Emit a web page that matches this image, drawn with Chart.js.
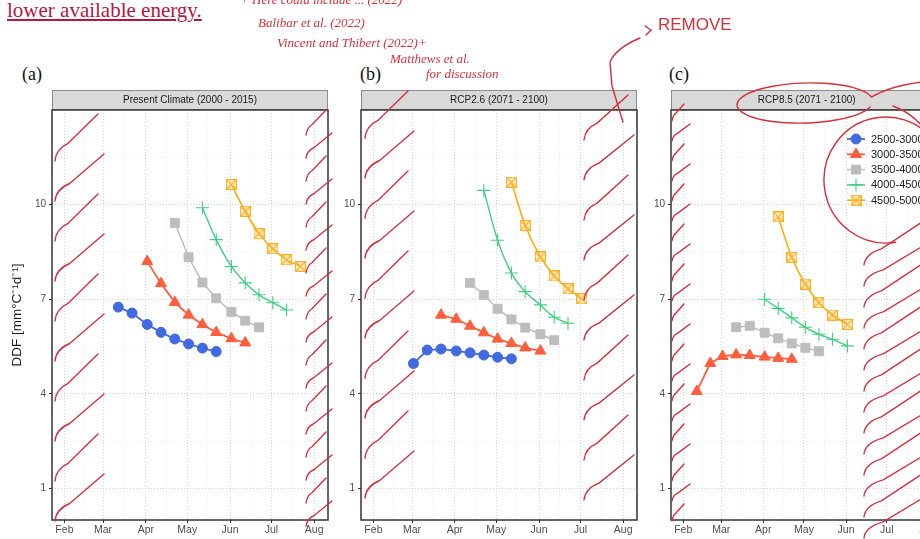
<!DOCTYPE html>
<html>
<head>
<meta charset="utf-8">
<script src="https://cdn.jsdelivr.net/npm/chart.js@4.4.1/dist/chart.umd.min.js"></script>
<style>
  body { margin: 0; width: 920px; height: 539px; overflow: hidden; background: #fff; position: relative; }
  .panel { position: absolute; top: 86px; }
  .lead { position: absolute; left: 7px; top: 0px; font: 21px "Liberation Serif", serif; line-height: 21px; color: #b5173f; text-decoration: underline; white-space: nowrap; }
  .tag { position: absolute; top: 64px; font: 18px "Liberation Serif", serif; color: #111; }
  #ink { position: absolute; left: 0; top: 0; pointer-events: none; z-index: 5; }
</style>
</head>
<body>
<div class="lead">lower available energy.</div>
<div class="tag" style="left:22px">(a)</div>
<div class="tag" style="left:360px">(b)</div>
<div class="tag" style="left:669px">(c)</div>

<canvas id="present" class="panel" width="340" height="453" style="left:0"></canvas>
<canvas id="rcp26" class="panel" width="310" height="453" style="left:340px"></canvas>
<canvas id="rcp85" class="panel" width="300" height="453" style="left:650px"></canvas>
<canvas id="ink" width="920" height="539"></canvas>

<script>
'use strict';

const _ = null;

// dekad dates (day of year) used by every series
const dekadDays = [42, 52, 61, 71, 81, 92, 102, 112, 122, 132, 142, 153, 163, 173, 183, 193, 203];

const elevationBands = ['2500-3000', '3000-3500', '3500-4000', '4000-4500', '4500-5000'];
const panelTitles = ['Present Climate (2000 - 2015)', 'RCP2.6 (2071 - 2100)', 'RCP8.5 (2071 - 2100)'];

const monthTicks = [32, 60, 91, 121, 152, 182, 213];
const monthLabels = ['Feb', 'Mar', 'Apr', 'May', 'Jun', 'Jul', 'Aug'];
const midMonthTicks = [46, 75, 106, 136, 167, 197];
const ddfTicks = [1, 4, 7, 10];
const ddfMinorTicks = [2.5, 5.5, 8.5, 11.5];

// DDF values, one array per elevation band
const present2500 = [_, _, _, 6.75, 6.56, 6.2, 5.95, 5.74, 5.58, 5.45, 5.34, _, _, _, _, _, _];
const present3000 = [_, _, _, _, _, 8.2, 7.5, 6.9, 6.5, 6.2, 5.95, 5.75, 5.62, _, _, _, _];
const present3500 = [_, _, _, _, _, _, _, 9.42, 8.33, 7.53, 7.03, 6.6, 6.32, 6.11, _, _, _];
const present4000 = [_, _, _, _, _, _, _, _, _, 9.9, 8.89, 8.04, 7.52, 7.14, 6.89, 6.66, _];
const present4500 = [_, _, _, _, _, _, _, _, _, _, _, 10.64, 9.79, 9.08, 8.6, 8.25, 8.04];

const rcp26_2500 = [_, _, 4.96, 5.39, 5.42, 5.36, 5.3, 5.23, 5.16, 5.11, _, _, _, _, _, _, _];
const rcp26_3000 = [_, _, _, _, 6.5, 6.37, 6.15, 5.94, 5.74, 5.6, 5.46, 5.36, _, _, _, _, _];
const rcp26_3500 = [_, _, _, _, _, _, 7.52, 7.14, 6.7, 6.36, 6.1, 5.89, 5.7, _, _, _, _];
const rcp26_4000 = [_, _, _, _, _, _, _, 10.45, 8.87, 7.83, 7.24, 6.82, 6.43, 6.24, _, _, _];
const rcp26_4500 = [_, _, _, _, _, _, _, _, _, 10.71, 9.34, 8.34, 7.74, 7.33, 7.01, _, _];

const rcp85_2500 = [_, _, _, _, _, _, _, _, _, _, _, _, _, _, _, _, _];
const rcp85_3000 = [4.08, 4.97, 5.19, 5.24, 5.22, 5.17, 5.13, 5.1, _, _, _, _, _, _, _, _, _];
const rcp85_3500 = [_, _, _, 6.11, 6.16, 5.94, 5.76, 5.6, 5.46, 5.35, _, _, _, _, _, _, _];
const rcp85_4000 = [_, _, _, _, _, 7.0, 6.71, 6.41, 6.11, 5.89, 5.73, 5.52, _, _, _, _, _];
const rcp85_4500 = [_, _, _, _, _, _, 9.61, 8.33, 7.48, 6.89, 6.5, 6.2, _, _, _, _, _];

const FONT = '"Liberation Sans", Arial, sans-serif';

// square with an X, like ggplot shape 7
function makeBoxCross(color) {
  let c = document.createElement('canvas');
  c.width = 11; c.height = 11;
  let g = c.getContext('2d');
  g.fillStyle = 'rgba(255, 200, 110, 0.35)';
  g.fillRect(0, 0, 11, 11);
  g.strokeStyle = color;
  g.lineWidth = 1.1;
  g.strokeRect(0.5, 0.5, 10, 10);
  g.beginPath();
  g.moveTo(1, 1); g.lineTo(10, 10);
  g.moveTo(10, 1); g.lineTo(1, 10);
  g.stroke();
  return c;
}

const bandStyles = [
  { color: '#4169e1', fill: '#4169e1', point: 'circle', radius: 5, width: 1.8, pw: 1, smooth: false },
  { color: '#ff5d3b', fill: '#ff5d3b', point: 'triangle', radius: 6.3, width: 1.8, pw: 1, smooth: false },
  { color: '#bdbdbd', fill: '#bdbdbd', point: 'rect', radius: 6.3, width: 1.5, pw: 1, smooth: false },
  { color: '#3fcf80', fill: '#3fcf80', point: 'cross', radius: 6.5, width: 1.4, pw: 1.1, smooth: true },
  { color: '#ffab00', fill: '#ffab00', point: makeBoxCross('#ffb020'), radius: 5, width: 1.6, pw: 1, smooth: true }
];

// strip header and panel border, ggplot theme_bw style
const panelFrame = {
  id: 'panelFrame',
  afterDraw(chart, args, opts) {
    let ctx = chart.ctx;
    let a = chart.chartArea;
    ctx.save();
    ctx.fillStyle = '#d9d9d9';
    ctx.fillRect(a.left, a.top - 20, a.right - a.left, 20);
    ctx.strokeStyle = '#8c8c8c';
    ctx.lineWidth = 1;
    ctx.strokeRect(a.left + 0.5, a.top - 19.5, a.right - a.left - 1, 19);
    ctx.fillStyle = '#1a1a1a';
    ctx.font = '10px ' + FONT;
    ctx.textAlign = 'center';
    ctx.textBaseline = 'middle';
    ctx.fillText(opts.title, (a.left + a.right) / 2, a.top - 9.5);
    ctx.strokeStyle = '#333';
    ctx.lineWidth = 1.5;
    ctx.strokeRect(a.left, a.top, a.right - a.left, a.bottom - a.top);
    ctx.restore();
  }
};

// legend drawn inside the plot area of the last panel
const insideLegend = {
  id: 'insideLegend',
  afterDraw(chart, args, opts) {
    if (!opts.show) return;
    let ctx = chart.ctx;
    let a = chart.chartArea;
    ctx.save();
    elevationBands.forEach((band, i) => {
      let st = bandStyles[i];
      let x = a.left + 185;
      let y = a.top + 29 + i * 15.3;
      ctx.strokeStyle = st.color;
      ctx.fillStyle = st.fill;
      ctx.lineWidth = st.width;
      ctx.beginPath();
      ctx.moveTo(x - 9, y); ctx.lineTo(x + 9, y);
      ctx.stroke();
      ctx.lineWidth = st.pw;
      if (st.point instanceof HTMLCanvasElement) {
        ctx.drawImage(st.point, x - 5.5, y - 5.5);
      } else {
        Chart.helpers.drawPoint(ctx, { pointStyle: st.point, radius: st.radius, borderWidth: st.pw, rotation: 0 }, x, y);
      }
      ctx.fillStyle = '#1a1a1a';
      ctx.font = '11px ' + FONT;
      ctx.textBaseline = 'middle';
      ctx.fillText(band, a.left + 200, y + 0.5);
    });
    ctx.restore();
  }
};

function makePanel(canvasId, title, series, opts) {
  let datasets = series.map((vals, i) => {
    let st = bandStyles[i];
    let pts = [];
    for (let k = 0; k < dekadDays.length; k++) {
      if (vals[k] !== null) pts.push({ x: dekadDays[k], y: vals[k] });
    }
    return {
      label: elevationBands[i],
      data: pts,
      borderColor: st.color,
      backgroundColor: st.fill,
      borderWidth: st.width,
      pointStyle: st.point,
      pointRadius: st.radius,
      pointBorderColor: st.color,
      pointBackgroundColor: st.fill,
      pointBorderWidth: st.pw,
      cubicInterpolationMode: st.smooth ? 'monotone' : 'default',
      tension: st.smooth ? 0.4 : 0
    };
  });

  return new Chart(document.getElementById(canvasId), {
    type: 'line',
    data: { datasets: datasets },
    plugins: [panelFrame, insideLegend],
    options: {
      responsive: false,
      animation: false,
      layout: { padding: { top: 24, left: opts.padLeft, right: opts.padRight, bottom: 0 } },
      plugins: {
        legend: { display: false },
        tooltip: { enabled: false },
        panelFrame: { title: title },
        insideLegend: { show: opts.legend }
      },
      scales: {
        x: {
          type: 'linear',
          min: 23,
          max: 223,
          afterBuildTicks: axis => {
            axis.ticks = monthTicks.concat(midMonthTicks).sort((p, q) => p - q).map(v => ({ value: v }));
          },
          afterFit: s => { s.height = 19; },
          ticks: {
            autoSkip: false,
            maxRotation: 0,
            padding: 1,
            color: '#4d4d4d',
            font: { size: 10.5, family: FONT },
            callback: v => {
              let i = monthTicks.indexOf(v);
              return i >= 0 ? monthLabels[i] : '';
            }
          },
          grid: {
            color: c => monthTicks.includes(c.tick.value) ? '#d2d2d2' : '#ececec',
            tickColor: c => monthTicks.includes(c.tick.value) ? '#333' : 'rgba(0,0,0,0)',
            tickLength: 3,
            lineWidth: 1
          },
          border: { display: false, dash: [1, 2] }
        },
        y: {
          min: 0,
          max: 13,
          afterBuildTicks: axis => {
            axis.ticks = ddfTicks.concat(ddfMinorTicks).sort((p, q) => p - q).map(v => ({ value: v }));
          },
          afterFit: s => { s.width = opts.yWidth; },
          ticks: {
            padding: 3,
            color: '#4d4d4d',
            font: { size: 10, family: FONT },
            callback: v => ddfTicks.includes(v) ? String(v) : ''
          },
          grid: {
            color: c => ddfTicks.includes(c.tick.value) ? '#d2d2d2' : '#ececec',
            tickColor: c => ddfTicks.includes(c.tick.value) ? '#333' : 'rgba(0,0,0,0)',
            tickLength: 3,
            lineWidth: 1
          },
          border: { display: false, dash: [1, 2] },
          title: {
            display: opts.yTitle,
            text: 'DDF [mm°C⁻¹d⁻¹]',
            color: '#1a1a1a',
            font: { size: 13.5, family: FONT },
            padding: 1
          }
        }
      }
    }
  });
}

makePanel('present', panelTitles[0],
  [present2500, present3000, present3500, present4000, present4500],
  { padLeft: 8, padRight: 12, yWidth: 44, yTitle: true, legend: false });
makePanel('rcp26', panelTitles[1],
  [rcp26_2500, rcp26_3000, rcp26_3500, rcp26_4000, rcp26_4500],
  { padLeft: 0, padRight: 13, yWidth: 21, yTitle: false, legend: false });
makePanel('rcp85', panelTitles[2],
  [rcp85_2500, rcp85_3000, rcp85_3500, rcp85_4000, rcp85_4500],
  { padLeft: 0, padRight: 4, yWidth: 21, yTitle: false, legend: true });

// red pen notes written over the figure
const ink = document.getElementById('ink').getContext('2d');
ink.strokeStyle = '#d4303b';
ink.fillStyle = '#d4303b';
ink.lineWidth = 1.4;
ink.lineCap = 'round';

function hatch(x0, x1, yFrom, yTo, step, rise) {
  let n = 0;
  for (let y = yFrom; y <= yTo; y += step) {
    let x2 = x1 + (n % 2 ? 6 : 0);
    ink.beginPath();
    ink.moveTo(x0, y + 3);
    ink.quadraticCurveTo(x0 + 1, y - rise * 0.2, x0 + (x2 - x0) * 0.3, y - rise * 0.33);
    ink.lineTo(x2, y - rise);
    ink.stroke();
    n++;
  }
}

hatch(55, 98, 158, 518, 40, 44);
hatch(306, 326, 132, 536, 23, 22);
hatch(365, 408, 135, 510, 40, 44);
hatch(584, 628, 137, 512, 40, 42);
hatch(672, 684, 118, 530, 20, 14);
hatch(864, 922, 262, 540, 21, 40);

// ellipses round the RCP8.5 strip and the legend
ink.beginPath();
ink.ellipse(805, 103, 68, 20, -0.03, 0.3, Math.PI * 2 - 0.2);
ink.quadraticCurveTo(890, 86, 922, 82);
ink.stroke();
ink.beginPath();
ink.ellipse(886, 180, 62, 63, 0, Math.PI * 0.45, Math.PI * 1.75);
ink.stroke();
ink.beginPath();
ink.moveTo(893, 106);
ink.quadraticCurveTo(910, 112, 922, 126);
ink.stroke();

// arrow to REMOVE
ink.beginPath();
ink.moveTo(623, 122);
ink.lineTo(612, 86);
ink.lineTo(610, 62);
ink.quadraticCurveTo(616, 48, 640, 38);
ink.stroke();
ink.beginPath();
ink.moveTo(645, 26); ink.lineTo(651, 30); ink.lineTo(646, 35);
ink.stroke();

ink.font = '17px "Liberation Sans", Arial, sans-serif';
ink.fillText('REMOVE', 658, 30);

ink.font = 'italic 13px "Liberation Serif", serif';
ink.fillText('+ Here could include ... (2022)', 240, 4);
ink.fillText('Balibar et al. (2022)', 258, 27);
ink.fillText('Vincent and Thibert (2022)+', 277, 47);
ink.fillText('Matthews et al.', 390, 63);
ink.fillText('for discussion', 426, 78);
</script>
</body>
</html>
